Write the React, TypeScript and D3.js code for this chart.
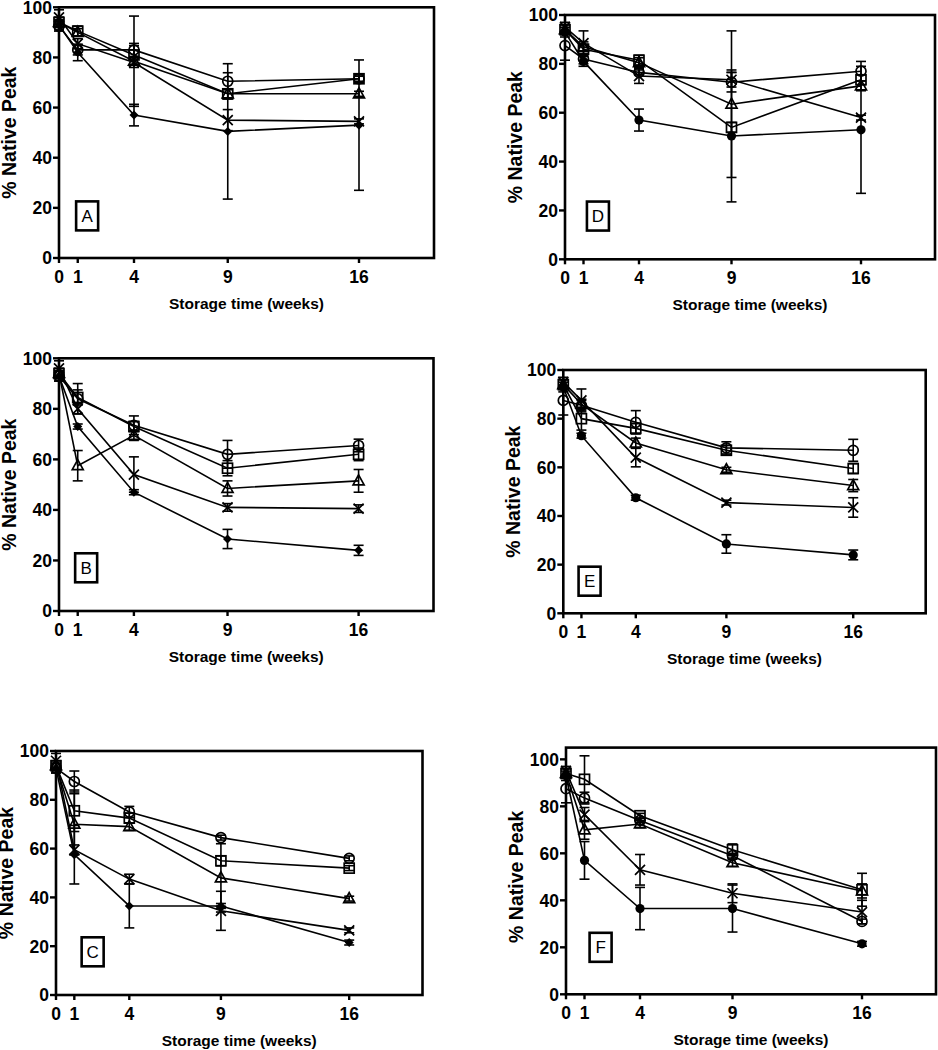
import React from 'react';
import * as d3 from 'd3';

// ---------- data ----------
const weeks = [0, 1, 4, 9, 16];
const xTicks = [0, 1, 4, 9, 16];
const yTicks = [0, 20, 40, 60, 80, 100];
const xLabel = 'Storage time (weeks)';
const yLabel = '% Native Peak';

// Panel A
const A_filled = [93, 82, 57, 50.5, 53];
const A_filled_err = [2, 3.3, 4.3, 27, 26];
const A_cross = [96, 85.5, 78, 55, 54.5];
const A_cross_err = [3, 2, 2, 4.2, 1];
const A_triangle = [94, 90, 78.5, 65.5, 65.5];
const A_triangle_err = [2, 1.5, 18, 2, 1];
const A_square = [94, 90.5, 81, 65.5, 71.5];
const A_square_err = [2, 2, 3.7, 2, 1.5];
const A_circle = [92.5, 83, 83, 70.5, 71.5];
const A_circle_err = [2, 2, 2.6, 3.4, 1];

// Panel B
const B_filled = [93, 73, 47, 28.5, 24];
const B_filled_err = [2, 1, 1, 3.8, 2];
const B_cross = [96, 80, 54, 41, 40.5];
const B_cross_err = [3, 2, 7, 1.5, 1.5];
const B_triangle = [94, 57.5, 69.5, 48.5, 51.5];
const B_triangle_err = [2, 6, 2, 3, 4.5];
const B_square = [94, 84.5, 73, 56.5, 62];
const B_square_err = [2, 3, 2, 3, 2.5];
const B_circle = [93, 84, 73.5, 62, 65.5];
const B_circle_err = [2, 6, 3.7, 5.5, 2.5];

// Panel C
const C_filled = [93, 57.5, 36.5, 36.5, 21.5];
const C_filled_err = [2, 12, 9, 1, 1];
const C_cross = [96, 59.5, 47.5, 34.5, 26.5];
const C_cross_err = [3, 2, 2, 8, 1];
const C_triangle = [94, 70, 69, 48, 39.5];
const C_triangle_err = [2, 12.5, 1.5, 14, 1];
const C_square = [94, 75.5, 72.5, 55, 52];
const C_square_err = [2, 8.5, 2, 2, 1];
const C_circle = [93, 87.5, 75, 64.5, 56];
const C_circle_err = [2, 4.3, 2.3, 1, 1];

// Panel D
const D_filled = [93, 81, 57, 50.5, 53];
const D_filled_err = [2, 2, 4.5, 27, 26];
const D_cross = [95, 88.5, 75, 73.5, 58];
const D_cross_err = [2, 5, 3, 3, 1];
const D_triangle = [94, 87, 80.5, 63.5, 71];
const D_triangle_err = [2, 2, 2, 30, 2];
const D_square = [94, 86, 81.5, 54, 73.5];
const D_square_err = [2, 2, 2, 2, 2];
const D_circle = [87.5, 82, 76.5, 72.5, 77];
const D_circle_err = [6, 2, 1, 4, 4];

// Panel E
const E_filled = [93, 73, 47.5, 28.5, 24];
const E_filled_err = [2, 1, 1, 3.8, 2];
const E_cross = [95, 87.5, 64, 45.5, 43.5];
const E_cross_err = [2, 4.7, 3.8, 1, 4];
const E_triangle = [94, 86, 70, 59, 52.5];
const E_triangle_err = [2, 2, 2, 1, 2.5];
const E_square = [94, 80, 76, 67, 59.5];
const E_square_err = [2, 4.7, 2, 2, 2];
const E_circle = [87.5, 85.5, 78.5, 68, 67];
const E_circle_err = [6, 2, 4.8, 2.5, 4.5];

// Panel F
const F_filled = [93, 57, 36.5, 36.5, 21.5];
const F_filled_err = [2, 8, 9, 10, 1];
const F_cross = [95, 76.5, 53, 43, 35];
const F_cross_err = [2, 3, 6.5, 4, 5];
const F_triangle = [94, 70, 72.5, 56, 44];
const F_triangle_err = [2, 4, 1.5, 1.5, 3];
const F_square = [94, 91.5, 76, 61.5, 44.5];
const F_square_err = [2, 10, 1, 2.5, 7];
const F_circle = [87.5, 83.5, 74, 59, 31];
const F_circle_err = [6, 2.5, 1, 1, 1];

// ---------- layout ----------
type Shape = 'diamond' | 'dot' | 'cross' | 'triangle' | 'square' | 'circle';
interface Series { shape: Shape; vals: number[]; errs: number[] }
interface Panel {
  id: string; x0: number; x1: number; yTop: number; yBottom: number; yMax: number;
  boxAt: [number, number]; series: Series[];
}

const mk = (filledShape: Shape, f: number[], fe: number[], c: number[], ce: number[], t: number[], te: number[], s: number[], se: number[], o: number[], oe: number[]): Series[] => [
  { shape: filledShape, vals: f, errs: fe },
  { shape: 'cross', vals: c, errs: ce },
  { shape: 'triangle', vals: t, errs: te },
  { shape: 'square', vals: s, errs: se },
  { shape: 'circle', vals: o, errs: oe },
];

const panels: Panel[] = [
  { id: 'A', x0: 59, x1: 434, yTop: 7.3, yBottom: 258, yMax: 100, boxAt: [1.5, 16.8],
    series: mk('diamond', A_filled, A_filled_err, A_cross, A_cross_err, A_triangle, A_triangle_err, A_square, A_square_err, A_circle, A_circle_err) },
  { id: 'B', x0: 59, x1: 433.5, yTop: 358.3, yBottom: 611, yMax: 100, boxAt: [1.45, 17.1],
    series: mk('diamond', B_filled, B_filled_err, B_cross, B_cross_err, B_triangle, B_triangle_err, B_square, B_square_err, B_circle, B_circle_err) },
  { id: 'C', x0: 56, x1: 422.5, yTop: 751, yBottom: 995, yMax: 100, boxAt: [2.0, 17.7],
    series: mk('diamond', C_filled, C_filled_err, C_cross, C_cross_err, C_triangle, C_triangle_err, C_square, C_square_err, C_circle, C_circle_err) },
  { id: 'D', x0: 565, x1: 935, yTop: 15, yBottom: 259.3, yMax: 100, boxAt: [1.78, 17.7],
    series: mk('dot', D_filled, D_filled_err, D_cross, D_cross_err, D_triangle, D_triangle_err, D_square, D_square_err, D_circle, D_circle_err) },
  { id: 'E', x0: 563.3, x1: 925.7, yTop: 370, yBottom: 613.3, yMax: 100, boxAt: [1.45, 13.2],
    series: mk('dot', E_filled, E_filled_err, E_cross, E_cross_err, E_triangle, E_triangle_err, E_square, E_square_err, E_circle, E_circle_err) },
  { id: 'F', x0: 566, x1: 936, yTop: 747.6, yBottom: 994.3, yMax: 105, boxAt: [1.87, 20],
    series: mk('dot', F_filled, F_filled_err, F_cross, F_cross_err, F_triangle, F_triangle_err, F_square, F_square_err, F_circle, F_circle_err) },
];

const FONT = '"Liberation Sans", Arial, Helvetica, sans-serif';

function Marker({ shape, x, y }: { shape: Shape; x: number; y: number }) {
  const sw = 1.7;
  switch (shape) {
    case 'diamond':
      return <path d={`M${x},${y - 4.5}L${x + 4.5},${y}L${x},${y + 4.5}L${x - 4.5},${y}Z`} fill="#000" />;
    case 'dot':
      return <circle cx={x} cy={y} r={4.6} fill="#000" />;
    case 'cross':
      return <path d={`M${x - 5},${y - 5}L${x + 5},${y + 5}M${x - 5},${y + 5}L${x + 5},${y - 5}`} stroke="#000" strokeWidth={sw} fill="none" />;
    case 'triangle':
      return <path d={`M${x},${y - 6}L${x + 5.5},${y + 4}L${x - 5.5},${y + 4}Z`} stroke="#000" strokeWidth={sw} fill="none" />;
    case 'square':
      return <rect x={x - 5} y={y - 5} width={10} height={10} stroke="#000" strokeWidth={sw} fill="none" />;
    case 'circle':
    default:
      return <circle cx={x} cy={y} r={5} stroke="#000" strokeWidth={sw} fill="none" />;
  }
}

function PanelView({ p }: { p: Panel }) {
  const x = d3.scaleLinear().domain([0, 20]).range([p.x0, p.x1]);
  const y = d3.scaleLinear().domain([0, p.yMax]).range([p.yBottom, p.yTop]);
  const line = d3.line<number>().x((_, i) => x(weeks[i])).y((d) => y(d));
  const cx = (p.x0 + p.x1) / 2;
  const cy = (y(0) + y(100)) / 2;
  const bx = x(p.boxAt[0]);
  const by = y(p.boxAt[1]);
  return (
    <g>
      {/* frame */}
      <rect x={p.x0} y={p.yTop} width={p.x1 - p.x0} height={p.yBottom - p.yTop} fill="none" stroke="#000" strokeWidth={2.6} />
      {/* y ticks */}
      {yTicks.map((t) => (
        <g key={'y' + t}>
          <line x1={p.x0 - 6} x2={p.x0} y1={y(t)} y2={y(t)} stroke="#000" strokeWidth={2.4} />
          <text x={p.x0 - 7} y={y(t)} dy="0.36em" textAnchor="end" fontFamily={FONT} fontWeight="bold" fontSize={17.5}>{t}</text>
        </g>
      ))}
      {/* x ticks */}
      {xTicks.map((t) => (
        <g key={'x' + t}>
          <line x1={x(t)} x2={x(t)} y1={p.yBottom} y2={p.yBottom + 5} stroke="#000" strokeWidth={2.4} />
          <text x={x(t)} y={p.yBottom + 25} textAnchor="middle" fontFamily={FONT} fontWeight="bold" fontSize={17.5}>{t}</text>
        </g>
      ))}
      <text x={cx} y={p.yBottom + 51} textAnchor="middle" fontFamily={FONT} fontWeight="bold" fontSize={15.5}>{xLabel}</text>
      <text transform={`translate(${p.x0 - 43},${cy}) rotate(-90)`} textAnchor="middle" fontFamily={FONT} fontWeight="bold" fontSize={19.5}>{yLabel}</text>
      {/* panel letter */}
      <rect x={bx - 11} y={by - 14.5} width={22} height={29} fill="#fff" stroke="#000" strokeWidth={2.6} />
      <text x={bx} y={by} dy="0.36em" textAnchor="middle" fontFamily={FONT} fontSize={17}>{p.id}</text>
      {/* lines */}
      {p.series.map((s, si) => (
        <path key={'l' + si} d={line(s.vals) || ''} fill="none" stroke="#000" strokeWidth={1.6} />
      ))}
      {/* error bars */}
      {p.series.map((s, si) => (
        <g key={'e' + si}>
          {s.vals.map((v, i) => {
            const e = s.errs[i];
            const px = x(weeks[i]);
            const hi = y(v + e);
            const lo = y(v - e);
            return (
              <g key={i}>
                <line x1={px} x2={px} y1={hi} y2={lo} stroke="#000" strokeWidth={1.6} />
                <line x1={px - 5} x2={px + 5} y1={hi} y2={hi} stroke="#000" strokeWidth={1.6} />
                <line x1={px - 5} x2={px + 5} y1={lo} y2={lo} stroke="#000" strokeWidth={1.6} />
              </g>
            );
          })}
        </g>
      ))}
      {/* markers */}
      {p.series.map((s, si) => (
        <g key={'m' + si}>
          {s.vals.map((v, i) => (
            <Marker key={i} shape={s.shape} x={x(weeks[i])} y={y(v)} />
          ))}
        </g>
      ))}
    </g>
  );
}

export default function App() {
  return (
    <svg width={938} height={1050} style={{ position: 'absolute', left: 0, top: 0, background: '#fff' }}>
      <rect x={0} y={0} width={938} height={1050} fill="#fff" />
      {panels.map((p) => (
        <PanelView key={p.id} p={p} />
      ))}
    </svg>
  );
}
